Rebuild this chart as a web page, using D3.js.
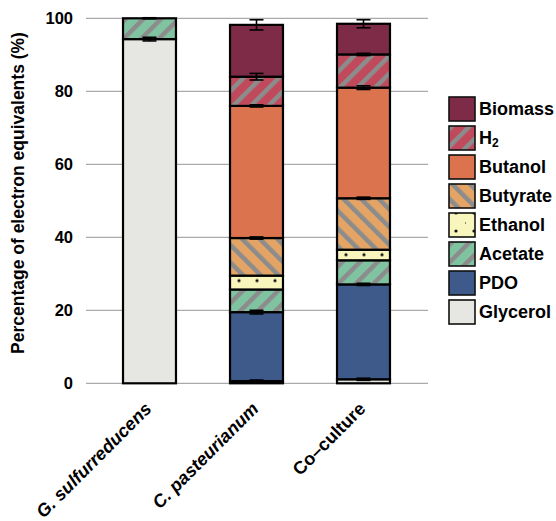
<!DOCTYPE html>
<html><head><meta charset="utf-8">
<script src="https://cdn.jsdelivr.net/npm/d3@7"></script>
<style>
body{margin:0;background:#fff;}
text{font-family:"Liberation Sans",Arial,sans-serif;font-weight:bold;}
</style></head><body>
<svg id="chart" width="556" height="521"></svg>
<script>
const categories = ["G. sulfurreducens", "C. pasteurianum", "Co\u2013culture"];
const seriesNames = ["Glycerol", "PDO", "Acetate", "Ethanol", "Butyrate", "Butanol", "H2", "Biomass"];
// values per category, in series order (bottom to top)
const glycerol = [94.3, 0.6, 1.1];
const pdo      = [0, 18.9, 26.0];
const acetate  = [5.7, 6.2, 6.6];
const ethanol  = [0, 3.8, 2.9];
const butyrate = [0, 10.3, 14.1];
const butanol  = [0, 36.2, 30.3];
const h2       = [0, 8.0, 9.1];
const biomass  = [0, 14.2, 8.4];
// standard errors per segment
const glycerolErr = [0.5, 0.3, 0.3];
const pdoErr      = [0, 0.5, 0.3];
const acetateErr  = [0.15, 0, 0];
const ethanolErr  = [0, 0, 0];
const butyrateErr = [0, 0.3, 0.3];
const butanolErr  = [0, 0.3, 0.5];
const h2Err       = [0, 0.9, 0.3];
const biomassErr  = [0, 1.4, 1.1];
const yTicks = [0, 20, 40, 60, 80, 100];

const values = [glycerol, pdo, acetate, ethanol, butyrate, butanol, h2, biomass];
const errors = [glycerolErr, pdoErr, acetateErr, ethanolErr, butyrateErr, butanolErr, h2Err, biomassErr];

const svg = d3.select("#chart");
const defs = svg.append("defs");

function stripe(id, bg, angle){
  const p = defs.append("pattern").attr("id", id).attr("patternUnits","userSpaceOnUse")
    .attr("width", 12.5).attr("height", 12.5).attr("patternTransform", `rotate(${angle})`);
  p.append("rect").attr("width", 12.5).attr("height", 12.5).attr("fill", bg);
  p.append("rect").attr("x", 0).attr("width", 4.5).attr("height", 12.5).attr("fill", "#8c8c8c");
}
stripe("pH2", "#c04a5c", 45);
stripe("pAcetate", "#80c3a1", 45);
stripe("pButyrate", "#e3a466", -45);
function dots(id, ox, oy, pts){
  const p = defs.append("pattern").attr("id", id).attr("patternUnits","userSpaceOnUse")
    .attr("x", ox).attr("y", oy).attr("width", 18).attr("height", 18);
  p.append("rect").attr("width",18).attr("height",18).attr("fill","#f8f5bd");
  pts.forEach(q=>p.append("circle").attr("cx",q[0]).attr("cy",q[1]).attr("r",1.6).attr("fill","#111"));
}

const fills = {
  Glycerol: "#e6e6e3", PDO: "#3e5a8b", Acetate: "url(#pAcetate)", Ethanol: "url(#pEthanol)",
  Butyrate: "url(#pButyrate)", Butanol: "#dc734f", H2: "url(#pH2)", Biomass: "#7e2b48"
};

const y = d3.scaleLinear().domain([0, 100]).range([383.3, 18.3]);
const x = d3.scaleBand().domain(categories).range([96, 417]).paddingInner(0.505).paddingOuter(0.2525);

// grid
svg.append("g").selectAll("line").data(yTicks).join("line")
  .attr("x1", 86).attr("x2", 428).attr("y1", d=>y(d)).attr("y2", d=>y(d))
  .attr("stroke", "#aaaaaa").attr("stroke-width", 1.2);
// y tick labels
svg.append("g").selectAll("text").data(yTicks).join("text")
  .attr("x", 73).attr("y", d=>y(d)).attr("dy","0.36em").attr("text-anchor","end")
  .attr("font-size", 16.5).attr("fill","#000").text(d=>d);
svg.append("text").attr("transform","translate(24,193) rotate(-90)").attr("text-anchor","middle")
  .attr("font-size", 17.5).attr("fill","#000").text("Percentage of electron equivalents (%)");

// stacked
const rows = categories.map((c,i)=>{ const o={cat:c}; seriesNames.forEach((s,j)=>o[s]=values[j][i]); return o; });
const stack = d3.stack().keys(seriesNames)(rows);

stack.forEach((layer, j)=>{
  const name = seriesNames[j];
  svg.append("g").selectAll("rect").data(layer.filter(d=>d[1]-d[0]>0)).join("rect")
    .attr("x", d=>x(d.data.cat)).attr("width", x.bandwidth())
    .attr("y", d=>y(d[1])).attr("height", d=>y(d[0])-y(d[1]))
    .attr("fill", (d,i)=>{
      if (name === "Ethanol") {
        const id = "pEth" + categories.indexOf(d.data.cat);
        dots(id, x(d.data.cat), y(d[1]), [[9,5]]);
        return `url(#${id})`;
      }
      return fills[name];
    })
    .attr("stroke","#000").attr("stroke-width", 2.2);
});
// error bars
stack.forEach((layer, j)=>{
  layer.forEach((d,i)=>{
    const e = errors[j][i];
    if (d[1]-d[0] <= 0 || e <= 0) return;
    const cx = x(d.data.cat) + x.bandwidth()/2;
    const g = svg.append("g").attr("stroke","#000").attr("stroke-width",1.6);
    g.append("line").attr("x1",cx).attr("x2",cx).attr("y1",y(d[1]+e)).attr("y2",y(d[1]-e));
    g.append("line").attr("x1",cx-7).attr("x2",cx+7).attr("y1",y(d[1]+e)).attr("y2",y(d[1]+e));
    g.append("line").attr("x1",cx-7).attr("x2",cx+7).attr("y1",y(d[1]-e)).attr("y2",y(d[1]-e));
  });
});

// x labels
svg.append("g").selectAll("text").data(categories).join("text")
  .attr("transform", d=>`translate(${x(d)+x.bandwidth()/2+3},${410}) rotate(-45)`)
  .attr("text-anchor","end").attr("font-size", 18).attr("fill","#000")
  .each(function(d){
    const t = d3.select(this);
    if (d.indexOf(". ")>0) {
      t.append("tspan").attr("font-style","italic").text(d);
    } else t.text(d);
  });

// legend
const legendOrder = seriesNames.slice().reverse();
const lg = svg.append("g").selectAll("g").data(legendOrder).join("g")
  .attr("transform", (d,i)=>`translate(449,${97 + i*29})`);
dots("pEthLeg", 449, 97 + 4*29, [[8,3],[19,13],[9,22]]);
lg.append("rect").attr("width", 26).attr("height", 24)
  .attr("fill", d=> d === "Ethanol" ? "url(#pEthLeg)" : fills[d])
  .attr("stroke","#111").attr("stroke-width",1.6);
lg.append("text").attr("x", 30).attr("y", 12).attr("dy","0.36em").attr("font-size",18).attr("fill","#000")
  .each(function(d){
    const t = d3.select(this);
    if (d === "H2") {
      t.append("tspan").text("H");
      t.append("tspan").attr("font-size",12).attr("dy",3).text("2");
    } else t.text(d);
  });
</script></body></html>
